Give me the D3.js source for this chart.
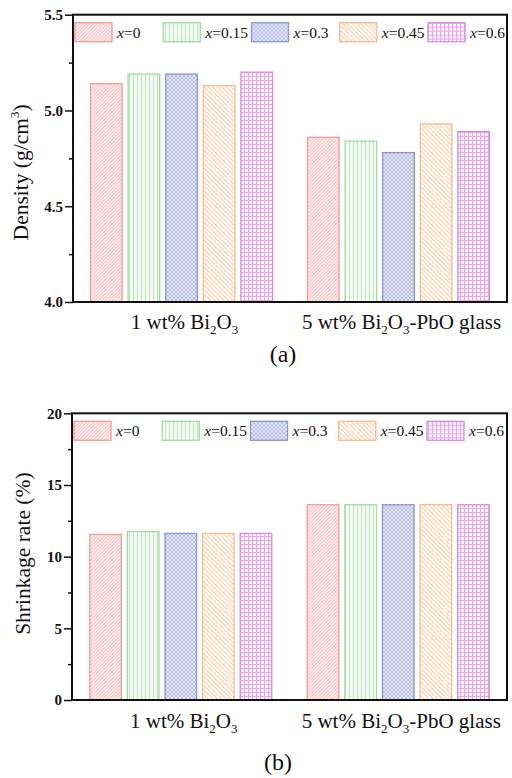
<!DOCTYPE html>
<html>
<head>
<meta charset="utf-8">
<script src="https://cdn.jsdelivr.net/npm/d3@7"></script>
<style>
  body { margin: 0; background: #fff; }
  svg { display: block; }
  text { font-family: "Liberation Serif", "Times New Roman", serif; fill: #111; }
</style>
</head>
<body>
<svg id="fig" width="512" height="778"></svg>
<script>
// ---- data ----
const groups = ["1 wt% Bi2O3", "5 wt% Bi2O3-PbO glass"];
const seriesX = ["0", "0.15", "0.3", "0.45", "0.6"];

const density1wt = [5.14, 5.19, 5.19, 5.13, 5.20];
const density5wt = [4.86, 4.84, 4.78, 4.93, 4.89];
const densityTicks = [4.0, 4.5, 5.0, 5.5];

const shrink1wt = [11.55, 11.75, 11.62, 11.62, 11.62];
const shrink5wt = [13.62, 13.62, 13.62, 13.62, 13.62];
const shrinkTicks = [0, 5, 10, 15, 20];

// ---- styles per series ----
const strokeColors = ["#f29a9a", "#9edc9e", "#8c96d2", "#f6bc8c", "#da8ada"];

const svg = d3.select("#fig");
const defs = svg.append("defs");

function pattern(id, w, h, bg, draw) {
  const p = defs.append("pattern")
    .attr("id", id).attr("patternUnits", "userSpaceOnUse")
    .attr("width", w).attr("height", h);
  p.append("rect").attr("width", w).attr("height", h).attr("fill", bg);
  draw(p);
}
// x=0 : forward diagonal hatch
pattern("pat0", 3.5, 3.5, "#fdf1f1", p => p.append("path")
  .attr("d", "M0,3.5 L3.5,0 M-1,1 L1,-1 M2.5,4.5 L4.5,2.5")
  .attr("stroke", "#f5b9b9").attr("stroke-width", 0.9));
// x=0.15 : vertical lines
pattern("pat1", 4, 4, "#ffffff", p => p.append("path")
  .attr("d", "M1.5,0 V4")
  .attr("stroke", "#bfeabf").attr("stroke-width", 1.5));
// x=0.3 : dense diamond cross-hatch
pattern("pat2", 4, 4, "#e3e6f6", p => {
  p.append("path").attr("d", "M0,0 L4,4 M4,0 L0,4")
    .attr("stroke", "#aeb5e2").attr("stroke-width", 0.8);
});
// x=0.45 : backward diagonal hatch
pattern("pat3", 4.5, 4.5, "#ffffff", p => p.append("path")
  .attr("d", "M0,0 L4.5,4.5 M-1,3.5 L1,5.5 M3.5,-1 L5.5,1")
  .attr("stroke", "#fad3b3").attr("stroke-width", 1.4));
// x=0.6 : square grid
pattern("pat4", 4, 4, "#fcf3fc", p => p.append("path")
  .attr("d", "M0,0.5 H4 M0.5,0 V4")
  .attr("stroke", "#e6abe6").attr("stroke-width", 1));

// write chemical formula with subscripted digits after letters
function richText(sel, str, size) {
  const parts = str.split(/(?<=[A-Za-z])(\d)/);
  let offset = 0;
  parts.forEach((t, i) => {
    if (!t) return;
    const sub = i % 2 === 1;
    const target = sub ? size * 0.22 : 0;
    sel.append("tspan")
      .attr("font-size", sub ? size * 0.62 : size)
      .attr("dy", target - offset)
      .text(t);
    offset = target;
  });
}

function panel(cfg) {
  const { top, bottom, left, right, domain, ticks, minorStep, values, fmt } = cfg;
  const g = svg.append("g");

  const x = d3.scaleBand().domain(groups).range([left, right]);
  const xs = d3.scaleBand().domain(seriesX).range([-91, 91]).paddingInner(0.16);
  const y = d3.scaleLinear().domain(domain).range([bottom, top]);

  // bars
  groups.forEach((grp, gi) => {
    const cx = x(grp) + x.bandwidth() / 2;
    g.append("g").selectAll("rect")
      .data(values[gi])
      .join("rect")
      .attr("x", (d, i) => cx + xs(seriesX[i]))
      .attr("width", xs.bandwidth())
      .attr("y", d => y(d))
      .attr("height", d => y(domain[0]) - y(d))
      .attr("fill", (d, i) => `url(#pat${i})`)
      .attr("stroke", (d, i) => strokeColors[i])
      .attr("stroke-width", 1.3);
  });

  // minor ticks
  const minor = d3.range(domain[0], domain[1] + 1e-9, minorStep)
    .filter(v => !ticks.some(t => Math.abs(t - v) < 1e-9));
  const minorAxis = g.append("g").attr("transform", `translate(${left},0)`)
    .call(d3.axisLeft(y).tickValues(minor).tickSize(4).tickFormat(""));
  minorAxis.select(".domain").remove();
  minorAxis.selectAll("line").attr("stroke", "#111").attr("stroke-width", 1.5);

  // major ticks
  const ax = g.append("g").attr("transform", `translate(${left},0)`)
    .call(d3.axisLeft(y).tickValues(ticks).tickSize(8).tickPadding(2).tickFormat(fmt));
  ax.select(".domain").remove();
  ax.selectAll("line").attr("stroke", "#111").attr("stroke-width", 1.5);
  ax.selectAll("text")
    .attr("font-family", "'Liberation Serif', serif")
    .attr("font-weight", "bold").attr("font-size", 15).attr("fill", "#111");

  // frame
  g.append("rect")
    .attr("x", left).attr("y", top)
    .attr("width", right - left).attr("height", bottom - top)
    .attr("fill", "none").attr("stroke", "#111").attr("stroke-width", 2);

  // legend
  const lx = d3.scalePoint().domain(seriesX).range([left + 2, left + 355]);
  const leg = g.append("g").attr("transform", `translate(0,${top + 8})`);
  seriesX.forEach((s, i) => {
    leg.append("rect")
      .attr("x", lx(s)).attr("y", 0).attr("width", 37).attr("height", 19)
      .attr("fill", `url(#pat${i})`).attr("stroke", strokeColors[i]).attr("stroke-width", 1.3);
    const t = leg.append("text").attr("x", lx(s) + 42).attr("y", 15).attr("font-size", 15.5);
    t.append("tspan").attr("font-style", "italic").text("x");
    t.append("tspan").text("=" + s);
  });

  // group labels
  groups.forEach(grp => {
    const t = g.append("text")
      .attr("x", x(grp) + x.bandwidth() / 2 + cfg.labelShift)
      .attr("y", cfg.labelY)
      .attr("text-anchor", "middle");
    richText(t, grp, 21);
  });

  // y title
  const yt = g.append("text")
    .attr("transform", `translate(${cfg.titleX},${(top + bottom) / 2 + cfg.titleShift}) rotate(-90)`)
    .attr("text-anchor", "middle").attr("font-size", 21.5);
  yt.append("tspan").text(cfg.title[0]);
  if (cfg.title[1]) {
    yt.append("tspan").attr("font-size", 13).attr("dy", -9).text(cfg.title[1]);
    yt.append("tspan").attr("dy", 9).text(cfg.title[2]);
  }

  // panel tag
  g.append("text").attr("x", cfg.tagX).attr("y", cfg.tagY)
    .attr("text-anchor", "middle").attr("font-size", 24).text(cfg.tag);
}

panel({
  top: 14.7, bottom: 302, left: 73, right: 507,
  domain: [4.0, 5.5], ticks: densityTicks, minorStep: 0.25,
  values: [density1wt, density5wt], fmt: d3.format(".1f"),
  labelY: 329, labelShift: 3,
  title: ["Density (g/cm", "3", ")"], titleX: 28, titleShift: 14,
  tag: "(a)", tagX: 283, tagY: 362
});

panel({
  top: 413.3, bottom: 700, left: 72, right: 507,
  domain: [0, 20], ticks: shrinkTicks, minorStep: 2.5,
  values: [shrink1wt, shrink5wt], fmt: d3.format("d"),
  labelY: 728, labelShift: 3,
  title: ["Shrinkage rate (%)"], titleX: 30, titleShift: -3,
  tag: "(b)", tagX: 278, tagY: 770
});
</script>
</body>
</html>
